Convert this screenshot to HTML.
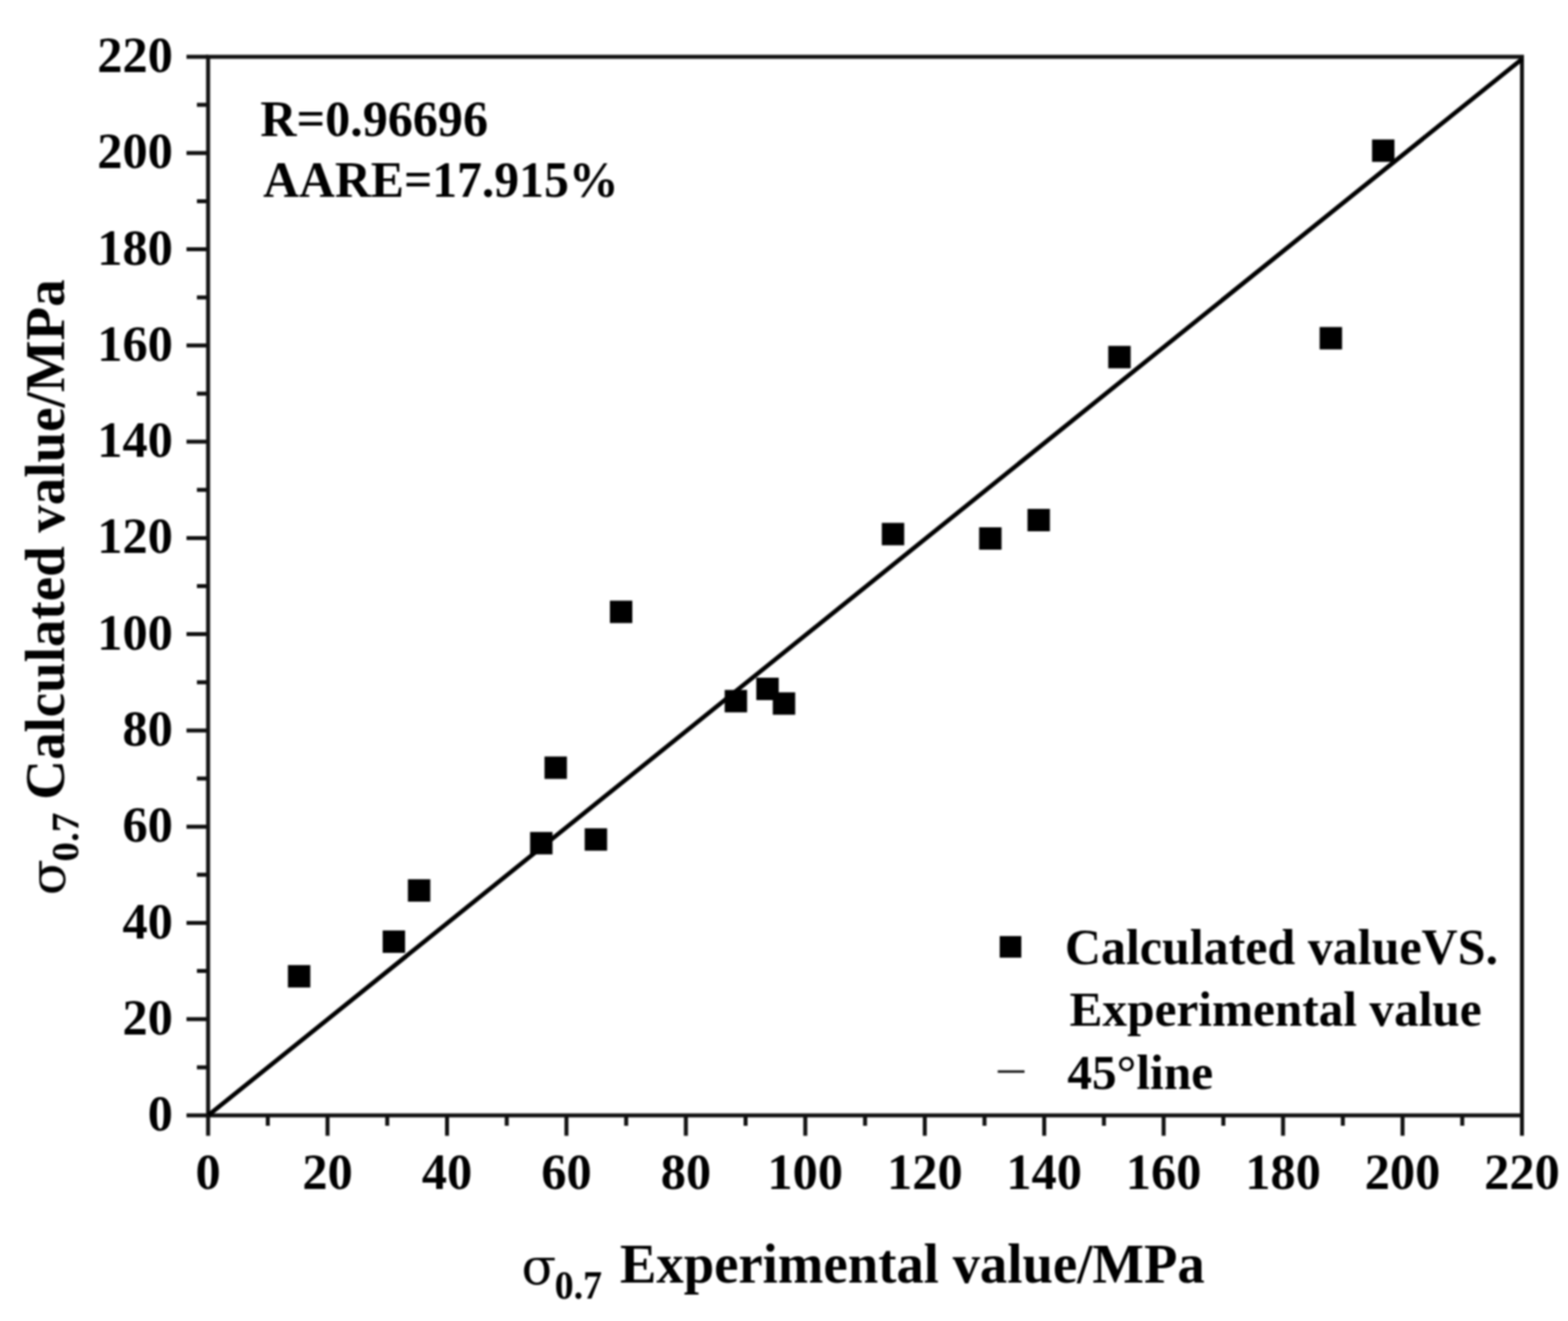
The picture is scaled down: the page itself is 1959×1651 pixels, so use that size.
<!DOCTYPE html><html><head><meta charset="utf-8"><title>Calculated vs Experimental</title>
<style>html,body{margin:0;padding:0;background:#fff;width:1959px;height:1651px;overflow:hidden}svg{display:block;filter:blur(0.9px)}text{font-family:"Liberation Serif","Times New Roman",serif;font-weight:bold;fill:#000}</style></head><body>
<svg width="1959" height="1651" viewBox="0 0 1959 1651">
<rect x="0" y="0" width="1959" height="1651" fill="#fff"/>
<rect x="260.0" y="71.0" width="1641.5" height="1323.0" fill="none" stroke="#111" stroke-width="5.0"/>
<path d="M260.0 1394.0v25.5M260.0 1394.0h-27M334.6 1394.0v13M260.0 1333.9h-14M409.2 1394.0v25.5M260.0 1273.7h-27M483.8 1394.0v13M260.0 1213.6h-14M558.5 1394.0v25.5M260.0 1153.5h-27M633.1 1394.0v13M260.0 1093.3h-14M707.7 1394.0v25.5M260.0 1033.2h-27M782.3 1394.0v13M260.0 973.0h-14M856.9 1394.0v25.5M260.0 912.9h-27M931.5 1394.0v13M260.0 852.8h-14M1006.1 1394.0v25.5M260.0 792.6h-27M1080.8 1394.0v13M260.0 732.5h-14M1155.4 1394.0v25.5M260.0 672.4h-27M1230.0 1394.0v13M260.0 612.2h-14M1304.6 1394.0v25.5M260.0 552.1h-27M1379.2 1394.0v13M260.0 492.0h-14M1453.8 1394.0v25.5M260.0 431.8h-27M1528.4 1394.0v13M260.0 371.7h-14M1603.0 1394.0v25.5M260.0 311.5h-27M1677.7 1394.0v13M260.0 251.4h-14M1752.3 1394.0v25.5M260.0 191.3h-27M1826.9 1394.0v13M260.0 131.1h-14M1901.5 1394.0v25.5M260.0 71.0h-27" stroke="#111" stroke-width="5.0" fill="none"/>
<line x1="260.5" y1="1393.7" x2="1901.5" y2="73.8" stroke="#000" stroke-width="5.5"/>
<rect x="359.7" y="1206.2" width="28" height="28" fill="#000"/>
<rect x="478.1" y="1162.9" width="28" height="28" fill="#000"/>
<rect x="509.6" y="1098.9" width="28" height="28" fill="#000"/>
<rect x="662.3" y="1039.8" width="28" height="28" fill="#000"/>
<rect x="730.5" y="1035.2" width="28" height="28" fill="#000"/>
<rect x="680.3" y="945.5" width="28" height="28" fill="#000"/>
<rect x="762.0" y="750.7" width="28" height="28" fill="#000"/>
<rect x="905.4" y="862.3" width="28" height="28" fill="#000"/>
<rect x="944.9" y="847.0" width="28" height="28" fill="#000"/>
<rect x="965.5" y="865.3" width="28" height="28" fill="#000"/>
<rect x="1101.7" y="653.5" width="28" height="28" fill="#000"/>
<rect x="1223.3" y="659.0" width="28" height="28" fill="#000"/>
<rect x="1283.7" y="636.0" width="28" height="28" fill="#000"/>
<rect x="1384.6" y="432.3" width="28" height="28" fill="#000"/>
<rect x="1648.7" y="408.7" width="28" height="28" fill="#000"/>
<rect x="1714.2" y="174.3" width="28" height="28" fill="#000"/>
<text x="216" y="1413.0" font-size="63" text-anchor="end">0</text>
<text x="216" y="1292.7" font-size="63" text-anchor="end">20</text>
<text x="216" y="1172.5" font-size="63" text-anchor="end">40</text>
<text x="216" y="1052.2" font-size="63" text-anchor="end">60</text>
<text x="216" y="931.9" font-size="63" text-anchor="end">80</text>
<text x="216" y="811.6" font-size="63" text-anchor="end">100</text>
<text x="216" y="691.4" font-size="63" text-anchor="end">120</text>
<text x="216" y="571.1" font-size="63" text-anchor="end">140</text>
<text x="216" y="450.8" font-size="63" text-anchor="end">160</text>
<text x="216" y="330.5" font-size="63" text-anchor="end">180</text>
<text x="216" y="210.3" font-size="63" text-anchor="end">200</text>
<text x="216" y="90.0" font-size="63" text-anchor="end">220</text>
<text x="260.0" y="1486" font-size="63" text-anchor="middle">0</text>
<text x="409.2" y="1486" font-size="63" text-anchor="middle">20</text>
<text x="558.5" y="1486" font-size="63" text-anchor="middle">40</text>
<text x="707.7" y="1486" font-size="63" text-anchor="middle">60</text>
<text x="856.9" y="1486" font-size="63" text-anchor="middle">80</text>
<text x="1006.1" y="1486" font-size="63" text-anchor="middle">100</text>
<text x="1155.4" y="1486" font-size="63" text-anchor="middle">120</text>
<text x="1304.6" y="1486" font-size="63" text-anchor="middle">140</text>
<text x="1453.8" y="1486" font-size="63" text-anchor="middle">160</text>
<text x="1603.0" y="1486" font-size="63" text-anchor="middle">180</text>
<text x="1752.3" y="1486" font-size="63" text-anchor="middle">200</text>
<text x="1901.5" y="1486" font-size="63" text-anchor="middle">220</text>
<text transform="translate(325.25 169.70) scale(0.6263 0.6325)" font-size="100" style="font-weight:bold">R=0.96696</text>
<text transform="translate(328.78 245.96) scale(0.6207 0.6269)" font-size="100" style="font-weight:bold">AARE=17.915%</text>
<rect x="1249.0" y="1169.9" width="27" height="27" fill="#000"/>
<line x1="1246.5" y1="1339.2" x2="1280" y2="1339.2" stroke="#111" stroke-width="3"/>
<text transform="translate(1330.38 1204.77) scale(0.6245 0.6307)" font-size="100" style="font-weight:bold">Calculated valueVS.</text>
<text transform="translate(1336.27 1281.80) scale(0.6160 0.6221)" font-size="100" style="font-weight:bold">Experimental value</text>
<text transform="translate(1333.48 1360.71) scale(0.6164 0.6226)" font-size="100" style="font-weight:bold">45°line</text>
<text transform="translate(651.52 1604.56) scale(0.6367 0.6358)" font-size="100" style="font-family:&quot;DejaVu Serif&quot;,serif;font-weight:normal">σ</text>
<text transform="translate(693.00 1622.69) scale(0.4739 0.5030)" font-size="100" style="font-weight:bold">0.7</text>
<text transform="translate(774.43 1602.65) scale(0.6836 0.6904)" font-size="100" style="font-weight:bold">Experimental value/MPa</text>
<text transform="translate(80.78 1119.01) rotate(-90) scale(0.6617 0.6245)" font-size="100" style="font-family:&quot;DejaVu Serif&quot;,serif;font-weight:normal">σ</text>
<text transform="translate(97.71 1076.76) rotate(-90) scale(0.4899 0.4925)" font-size="100" style="font-weight:bold">0.7</text>
<text transform="translate(80.32 999.43) rotate(-90) scale(0.6866 0.6935)" font-size="100" style="font-weight:bold">Calculated value/MPa</text>
</svg></body></html>
